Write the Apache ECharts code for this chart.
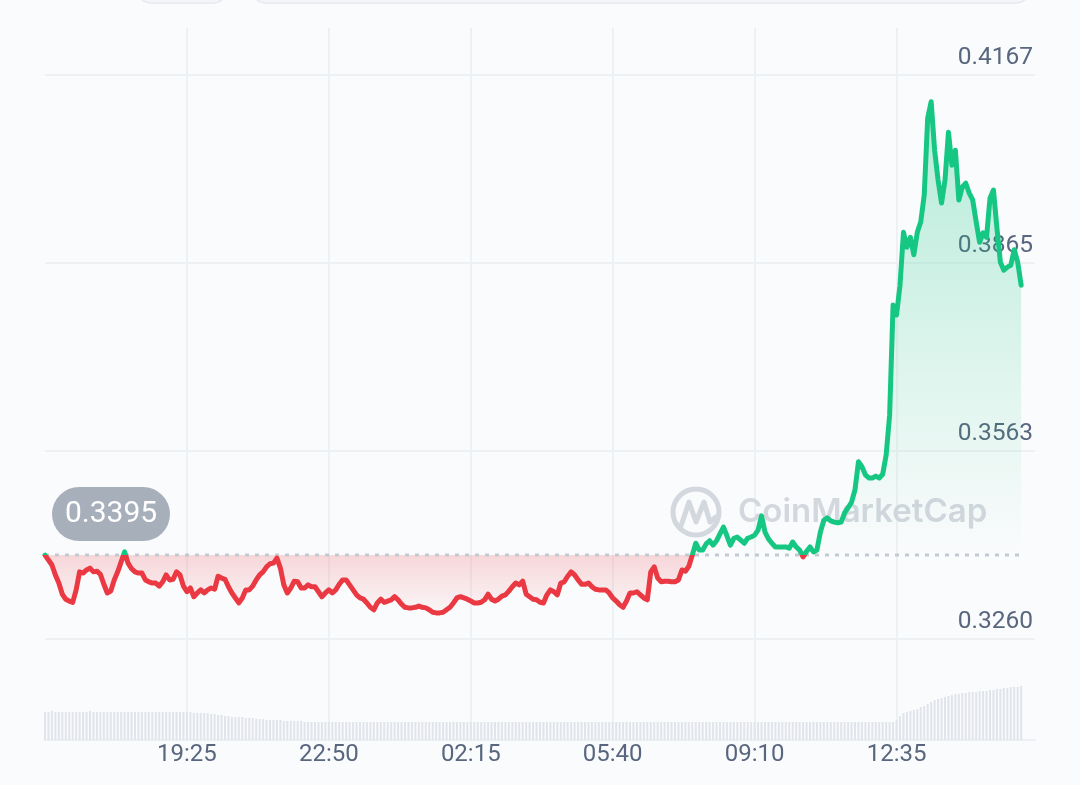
<!DOCTYPE html>
<html>
<head>
<meta charset="utf-8">
<script src="https://cdn.jsdelivr.net/npm/echarts@6/dist/echarts.min.js"></script>
<style>
html,body{margin:0;padding:0;background:#fafbfc;}
#c{width:1080px;height:785px;}
</style>
</head>
<body>
<div id="c"></div>
<script>
// ---- data ----
const X_LABELS = ['19:25', '22:50', '02:15', '05:40', '09:10', '12:35'];
const Y_LABELS = ['0.3260', '0.3563', '0.3865', '0.4167'];
const Y_MIN = 0.3260;
const Y_MAX = 0.4167;
const BASELINE = 0.3395;
const X_TICK_STEP = 41;   // 5-minute samples between time labels
const X_MAX = 286;

const PRICE = [
  0.3395,0.3387,0.3379,0.3363,0.3350,0.3332,0.3324,0.3321,0.3319,0.3339,
  0.3368,0.3366,0.3371,0.3374,0.3368,0.3369,0.3364,0.3348,0.3334,0.3337,
  0.3355,0.3368,0.3384,0.3400,0.3382,0.3373,0.3368,0.3366,0.3366,0.3355,
  0.3352,0.3350,0.3350,0.3345,0.3352,0.3363,0.3355,0.3356,0.3368,0.3363,
  0.3345,0.3336,0.3342,0.3328,0.3334,0.3339,0.3334,0.3339,0.3342,0.3340,
  0.3361,0.3358,0.3356,0.3344,0.3334,0.3326,0.3318,0.3326,0.3339,0.3339,
  0.3345,0.3355,0.3363,0.3368,0.3376,0.3381,0.3382,0.3390,0.3374,0.3347,
  0.3334,0.3342,0.3353,0.3352,0.3342,0.3342,0.3347,0.3344,0.3344,0.3336,
  0.3328,0.3334,0.3339,0.3334,0.3339,0.3348,0.3355,0.3355,0.3347,0.3339,
  0.3331,0.3326,0.3324,0.3318,0.3311,0.3307,0.3318,0.3324,0.3319,0.3321,
  0.3323,0.3328,0.3323,0.3316,0.3311,0.3310,0.3310,0.3311,0.3313,0.3311,
  0.3310,0.3307,0.3303,0.3302,0.3302,0.3303,0.3307,0.3311,0.3318,0.3326,
  0.3328,0.3326,0.3324,0.3321,0.3318,0.3318,0.3319,0.3323,0.3332,0.3324,
  0.3321,0.3324,0.3329,0.3331,0.3337,0.3344,0.3350,0.3347,0.3353,0.3332,
  0.3328,0.3324,0.3323,0.3319,0.3318,0.3331,0.3339,0.3336,0.3331,0.3350,
  0.3352,0.3361,0.3368,0.3363,0.3355,0.3348,0.3348,0.3350,0.3344,0.3340,
  0.3339,0.3339,0.3339,0.3334,0.3326,0.3321,0.3315,0.3311,0.3321,0.3334,
  0.3334,0.3336,0.3331,0.3326,0.3323,0.3368,0.3376,0.3358,0.3352,0.3353,
  0.3353,0.3352,0.3352,0.3355,0.3371,0.3369,0.3377,0.3395,0.3414,0.3403,
  0.3403,0.3413,0.3418,0.3411,0.3418,0.3429,0.3440,0.3426,0.3411,0.3422,
  0.3424,0.3419,0.3414,0.3422,0.3424,0.3427,0.3435,0.3458,0.3432,0.3421,
  0.3414,0.3408,0.3408,0.3408,0.3408,0.3406,0.3416,0.3408,0.3403,0.3392,
  0.3401,0.3408,0.3400,0.3403,0.3432,0.3451,0.3455,0.3450,0.3448,0.3447,
  0.3448,0.3463,0.3471,0.3480,0.3500,0.3545,0.3537,0.3524,0.3519,0.3519,
  0.3522,0.3519,0.3525,0.3556,0.3620,0.3797,0.3781,0.3829,0.3914,0.3890,
  0.3906,0.3878,0.3914,0.3931,0.3974,0.4098,0.4124,0.4046,0.3998,0.3961,
  0.3998,0.4075,0.4022,0.4046,0.3966,0.3987,0.3993,0.3977,0.3966,0.3931,
  0.3898,0.3913,0.3906,0.3969,0.3982,0.3921,0.3866,0.3853,0.3858,0.3861,
  0.3886,0.3866,0.3829
];

const VOLUME = [
  28,28,29,28,28,28,28,28,28,28,28,28,28,29,28,28,28,28,28,28,
  28,28,28,28,28,28,28,28,28,28,28,28,28,28,28,28,28,28,28,28,
  28,
  28,28,27,27,27,27,
  27,26,26,25,25,24,24,23,23,23,
  23,22,22,22,21,21,21,20,20,20,20,20,19,19,19,19,19,19,
  18,18,18,18,18,18,18,18,18,18,18,18,18,18,18,18,18,
  18,18,18,18,18,18,18,18,18,18,18,18,18,18,18,18,18,
  18,18,18,18,18,18,18,18,18,18,18,18,18,18,18,18,18,
  18,18,18,18,18,18,18,18,18,18,18,18,18,18,18,18,18,
  18,18,18,18,18,18,18,18,18,18,18,18,18,18,18,18,18,
  18,18,18,18,18,18,18,18,18,18,18,18,18,18,18,18,18,
  18,18,18,18,18,18,18,18,18,18,18,18,18,18,18,18,18,
  18,18,18,18,18,18,18,18,18,18,18,18,18,18,18,18,18,
  18,18,18,18,18,18,18,18,18,18,18,18,18,18,18,18,18,
  18,18,18,18,18,18,18,18,18,18,18,18,18,18,18,18,18,
  18,20,24,27,28,29,30,31,33,34,36,38,40,41,42,43,44,45,46,46,
  47,47,48,48,48,49,49,49,50,50,51,51,52,52,53,53,53,54
];

// ---- layout ----
const G_LEFT = 45, G_RIGHT = 45;
const P_TOP = 75, P_BOTTOM = 146;           // price grid
const W = 1080, H = 785;
const P_H = H - P_TOP - P_BOTTOM;
const Y_RANGE = Y_MAX - Y_MIN;
const Y_STEP = Y_RANGE / 3;
const BASE_OFF = BASELINE - Y_MIN;
const basePix = P_TOP + (Y_MAX - BASELINE) / Y_RANGE * P_H;
const bf = (basePix - P_TOP) / P_H;

const GREEN = '#16c784', RED = '#ea3943';
const TXT = '#58667e', GRIDC = '#eef1f4';
const FONT = 'Roboto, "Noto Sans", sans-serif';

const priceData = PRICE.map((p, i) => [i, p - Y_MIN]);
const volData = VOLUME.map((v, i) => [i, v]);
const baseData = [[0, BASE_OFF], [PRICE.length - 1, BASE_OFF]];

const lineGrad = new echarts.graphic.LinearGradient(0, P_TOP, 0, P_TOP + P_H, [
  { offset: 0, color: GREEN },
  { offset: bf, color: GREEN },
  { offset: bf, color: RED },
  { offset: 1, color: RED }
], true);

const areaGrad = new echarts.graphic.LinearGradient(0, P_TOP, 0, P_TOP + P_H, [
  { offset: 0, color: 'rgba(22,199,132,0.32)' },
  { offset: bf - 0.001, color: 'rgba(22,199,132,0.0)' },
  { offset: bf, color: 'rgba(234,57,67,0.19)' },
  { offset: Math.min(1, bf + 0.1), color: 'rgba(234,57,67,0.03)' },
  { offset: 1, color: 'rgba(234,57,67,0.02)' }
], true);

const chart = echarts.init(document.getElementById('c'), null, { renderer: 'canvas' });

chart.setOption({
  backgroundColor: '#fafbfc',
  animation: false,
  textStyle: { fontFamily: FONT },
  grid: [
    { left: G_LEFT, right: G_RIGHT, top: P_TOP, bottom: P_BOTTOM },
    { left: G_LEFT, right: G_RIGHT, top: 640, bottom: 45 },
    { left: G_LEFT, right: G_RIGHT, top: 28, bottom: 45 }
  ],
  xAxis: [
    { type: 'value', gridIndex: 0, min: 0, max: X_MAX, show: false },
    { type: 'value', gridIndex: 1, min: 0, max: X_MAX, show: false },
    {
      type: 'value', gridIndex: 2, min: 0, max: X_MAX, interval: X_TICK_STEP,
      axisLine: { show: true, lineStyle: { color: '#eceff3', width: 2 } },
      axisTick: { show: false },
      splitLine: { show: true, showMinLine: false, showMaxLine: false, lineStyle: { color: GRIDC, width: 2 } },
      axisLabel: {
        color: TXT, fontSize: 24, fontFamily: FONT, margin: 3,
        showMinLabel: false, showMaxLabel: false,
        formatter: v => {
          const k = Math.round(v / X_TICK_STEP);
          if (Math.abs(v - k * X_TICK_STEP) > 1e-6) return '';
          return X_LABELS[k - 1] || '';
        }
      }
    }
  ],
  yAxis: [
    {
      type: 'value', gridIndex: 0, position: 'right', min: 0, max: Y_RANGE, interval: Y_STEP,
      axisLine: { show: false }, axisTick: { show: false },
      splitLine: { show: true, lineStyle: { color: GRIDC, width: 2 } },
      axisLabel: {
        inside: true, color: TXT, fontSize: 24.5, fontFamily: FONT, margin: 2,
        verticalAlign: 'bottom', padding: [0, 0, 5, 0],
        formatter: v => Y_LABELS[Math.round(v / Y_STEP)] || ''
      }
    },
    { type: 'value', gridIndex: 1, min: 0, max: 100, show: false },
    { type: 'value', gridIndex: 2, min: 0, max: 1, show: false }
  ],
  series: [
    {
      name: 'price', type: 'line', xAxisIndex: 0, yAxisIndex: 0,
      data: priceData, showSymbol: false, symbol: 'none', silent: true, z: 5,
      lineStyle: { width: 5, join: 'round', cap: 'round', color: lineGrad }
    },
    {
      name: 'area', type: 'line', xAxisIndex: 0, yAxisIndex: 0,
      data: priceData, showSymbol: false, symbol: 'none', silent: true, z: 3,
      lineStyle: { width: 0, opacity: 0 },
      areaStyle: { origin: BASE_OFF, color: areaGrad, opacity: 1 }
    },
    {
      name: 'baseline', type: 'line', xAxisIndex: 0, yAxisIndex: 0,
      data: baseData, showSymbol: false, symbol: 'none', silent: true, z: 4,
      lineStyle: { color: '#c3c9d2', width: 3, type: [4, 6] }
    },
    {
      name: 'volume', type: 'bar', xAxisIndex: 1, yAxisIndex: 1,
      data: volData, barWidth: 2, silent: true, z: 1,
      itemStyle: { color: '#e1e4ea' }
    }
  ],
  graphic: [
    // cut-off controls at top
    { type: 'rect', z: 1, shape: { x: 137, y: -30, width: 90, height: 33, r: 14 },
      style: { fill: '#f3f5f8', stroke: '#e6e9ee', lineWidth: 1.5 } },
    { type: 'rect', z: 1, shape: { x: 252, y: -30, width: 778, height: 33, r: 14 },
      style: { fill: '#f3f5f8', stroke: '#e6e9ee', lineWidth: 1.5 } },
    // watermark
    { type: 'circle', z: 1, silent: true, shape: { cx: 696, cy: 512, r: 23 },
      style: { fill: 'none', stroke: '#d3d7de', lineWidth: 5 } },
    { type: 'polyline', z: 1, silent: true,
      shape: { points: [[681, 526], [689, 502], [696, 522], [704, 502], [710, 522], [716, 517]] },
      style: { fill: 'none', stroke: '#d3d7de', lineWidth: 5, lineJoin: 'round', lineCap: 'round' } },
    { type: 'text', z: 1, silent: true, x: 738, y: 512,
      style: { text: 'CoinMarketCap', fill: '#d3d7de', font: '600 33px Inter, "Noto Sans", sans-serif',
        verticalAlign: 'middle' } },
    // baseline pill
    { type: 'rect', z: 20, shape: { x: 52, y: basePix - 68, width: 118, height: 54, r: 27 },
      style: { fill: '#a7afbb' } },
    { type: 'text', z: 21, x: 111, y: basePix - 41,
      style: { text: BASELINE.toFixed(4), fill: '#ffffff', font: '30px Roboto, sans-serif',
        align: 'center', verticalAlign: 'middle' } }
  ]
});
</script>
</body>
</html>
